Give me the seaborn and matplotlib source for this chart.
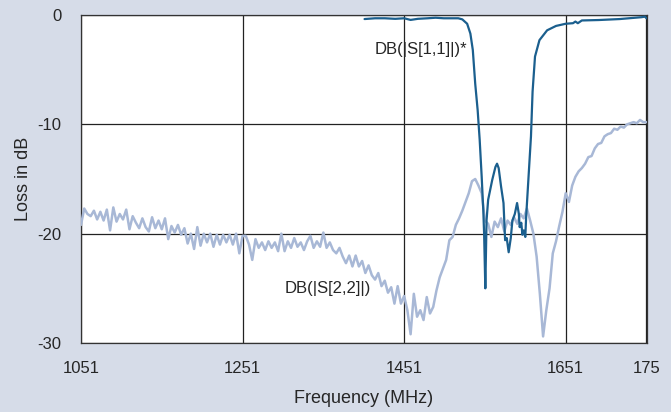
import numpy as np
import pandas as pd
import matplotlib
matplotlib.use("Agg")
import matplotlib.pyplot as plt
import seaborn as sns

# S[1,1] trace (dark blue)
s11_freq = [1402, 1415, 1427, 1440, 1451, 1459, 1468, 1480, 1490, 1500,
            1510, 1518, 1523, 1529, 1533, 1536, 1539, 1542, 1544.5, 1547,
            1549, 1550, 1551.5, 1553, 1555, 1560, 1564, 1566, 1568, 1571,
            1574, 1576, 1578, 1580.4, 1583, 1585, 1588, 1590.8, 1593, 1594,
            1596, 1597.4, 1599, 1601, 1602, 1605, 1608, 1610, 1613, 1618.5,
            1628, 1639, 1651, 1660, 1663, 1666, 1671, 1692, 1718, 1745,
            1749, 1751]
s11_db = [-0.37, -0.3, -0.3, -0.35, -0.3, -0.45, -0.35, -0.3, -0.25, -0.3,
          -0.3, -0.3, -0.4, -0.8, -1.7, -3.2, -6.3, -8.7, -11.4, -14.8,
          -17.9, -20.0, -25.0, -18.8, -16.9, -15.1, -13.9, -13.6, -14.0, -15.7,
          -17.2, -20.6, -20.4, -21.7, -20.4, -18.8, -18.2, -17.2, -18.2, -19.4,
          -19.0, -20.1, -19.7, -20.3, -18.5, -14.8, -11.1, -7.0, -3.8, -2.3,
          -1.4, -1.0, -0.8, -0.75, -0.6, -0.75, -0.5, -0.46, -0.37, -0.2,
          -0.15, -0.3]

# S[2,2] trace (light blue), sampled every 4 MHz from 1051 to 1751
s22_freq = np.arange(1051, 1752, 4)
s22_db = [
    # 1051 - 1251
    -19.2, -17.7, -18.2, -18.4, -17.9, -18.7, -18.0, -18.8, -17.8, -19.7,
    -17.6, -18.9, -18.2, -18.7, -17.8, -19.6, -18.4, -19.0, -19.5, -18.6,
    -19.4, -19.8, -18.5, -19.5, -18.8, -19.6, -18.6, -20.5, -19.3, -19.9,
    -19.2, -20.1, -19.5, -20.9, -20.0, -21.4, -19.4, -21.1, -20.0, -20.8,
    -20.0, -21.2, -20.1, -21.0, -20.1, -20.8, -20.1, -21.0, -20.0, -21.8,
    -20.2,
    # 1255 - 1451
    -20.2, -21.0, -22.4, -20.5, -21.3, -20.8, -21.5, -20.7, -21.3, -20.8,
    -21.6, -20.0, -21.6, -20.7, -21.3, -20.4, -21.2, -20.8, -21.5, -20.7,
    -20.2, -21.3, -20.7, -21.2, -19.9, -21.3, -20.8, -21.5, -21.8, -21.3,
    -22.1, -22.7, -22.0, -23.0, -22.0, -23.0, -22.5, -23.6, -22.9, -23.8,
    -24.2, -23.6, -24.8, -24.3, -25.4, -24.9, -26.4, -24.8, -26.4, -25.7,
    # 1455 - 1751
    -27.0, -29.2, -25.5, -27.6, -27.0, -27.9, -25.8, -27.3, -26.7, -25.2,
    -24.0, -23.2, -22.4, -20.6, -20.3, -19.2, -18.6, -17.9, -17.1, -16.3,
    -15.2, -15.0, -15.6, -16.3, -18.8, -19.1, -20.3, -18.9, -19.4, -18.6,
    -19.8, -18.8, -19.2, -18.5, -19.1, -18.2, -18.6, -17.7, -18.8, -20.0,
    -22.1, -25.5, -29.4, -27.0, -25.0, -21.8, -20.7, -19.3, -18.0, -16.3,
    -17.1, -15.6, -14.8, -14.3, -14.0, -13.6, -13.0, -12.9, -12.2, -11.8,
    -11.7, -11.1, -10.9, -10.8, -10.4, -10.5, -10.2, -10.3, -10.0, -9.9,
    -9.8, -9.9, -9.6, -9.8, -9.8,
]

x_ticks = [1051, 1251, 1451, 1651, 1751]
x_tick_labels = ["1051", "1251", "1451", "1651", "175"]
y_ticks = [0, -10, -20, -30]

bg = "#d6dce8"
dark = "#1b5f8e"
light = "#a8b8d6"

sns.set_style("white")
plt.rcParams["font.family"] = ["Liberation Sans", "DejaVu Sans"]

fig = plt.figure(figsize=(6.71, 4.12), dpi=100, facecolor=bg)
ax = fig.add_axes([0.1207, 0.1675, 0.8435, 0.7961])
ax.set_facecolor("white")

df22 = pd.DataFrame({"freq": s22_freq, "db": s22_db})
df11 = pd.DataFrame({"freq": s11_freq, "db": s11_db})
sns.lineplot(data=df22, x="freq", y="db", ax=ax, color=light, linewidth=1.8, zorder=3)
sns.lineplot(data=df11, x="freq", y="db", ax=ax, color=dark, linewidth=1.6, zorder=4)

ax.set_xlim(1051, 1751.6)
ax.set_ylim(-30, 0)
ax.set_xticks(x_ticks)
ax.set_xticklabels(x_tick_labels, fontsize=12)
ax.set_yticks(y_ticks)
ax.set_yticklabels([str(v) for v in y_ticks], fontsize=12)
ax.tick_params(axis="x", direction="out", length=9, width=0.8, color="#333333", pad=4)
ax.tick_params(axis="y", length=0, pad=14)

ax.grid(True, color="#222222", linewidth=0.9, zorder=1)
ax.set_axisbelow(True)
for sp in ax.spines.values():
    sp.set_color("#333333")
    sp.set_linewidth(0.9)

ax.set_xlabel("Frequency (MHz)", fontsize=13, labelpad=10)
ax.set_ylabel("Loss in dB", fontsize=13, labelpad=4)

ax.text(1414, -3.2, "DB(|S[1,1]|)*", fontsize=12, ha="left", va="center", zorder=5)
ax.text(1303, -25.0, "DB(|S[2,2]|)", fontsize=12, ha="left", va="center", zorder=5)

fig.savefig("out.png", dpi=100, facecolor=bg)
